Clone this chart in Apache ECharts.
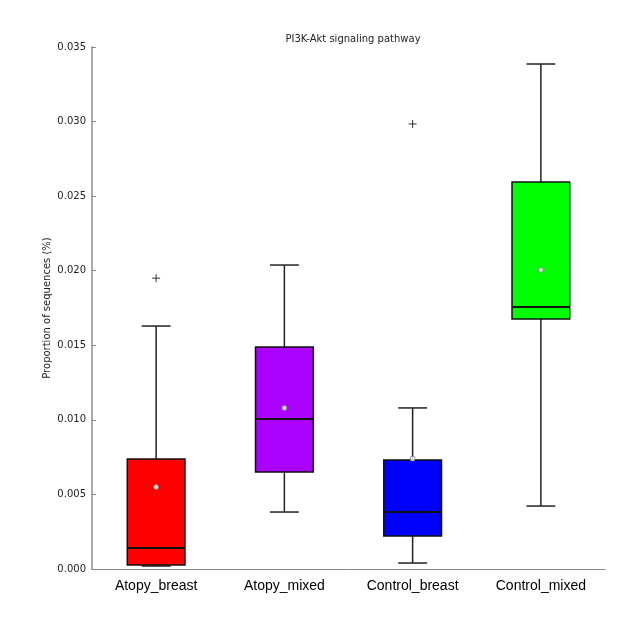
<!DOCTYPE html>
<html><head><meta charset="utf-8">
<script src="https://cdn.jsdelivr.net/npm/echarts@6/dist/echarts.min.js"></script>
<style>html,body{margin:0;padding:0;background:#fff}#c{width:638px;height:617px}</style>
</head><body><div id="c"></div>
<script>
var categories = ['Atopy_breast', 'Atopy_mixed', 'Control_breast', 'Control_mixed'];
// [whiskerLow, q1, median, q3, whiskerHigh]
var boxValues = [
  [0.0002, 0.00027, 0.00141, 0.00738, 0.01629],
  [0.00382, 0.0065, 0.01006, 0.01489, 0.02038],
  [0.0004, 0.00221, 0.00382, 0.00731, 0.0108],
  [0.00422, 0.01676, 0.01757, 0.02595, 0.03386]
];
var meanValues = [0.0055, 0.0108, 0.0074, 0.02005];
var outliers = [[0, 0.0195], [2, 0.02984]];
var boxColors = ['#ff0000', '#aa00ff', '#0000ff', '#00ff00'];
var yTicks = [0, 0.005, 0.01, 0.015, 0.02, 0.025, 0.03, 0.035];

var chart = echarts.init(document.getElementById('c'));
var boxData = boxValues.map(function (v, i) { return [i].concat(v); });

chart.setOption({
  animation: false,
  title: {
    text: 'PI3K-Akt signaling pathway', left: 348, top: 29, textAlign: 'center',
    textStyle: { fontSize: 10, fontWeight: 'normal', color: '#222', fontFamily: 'DejaVu Sans' }
  },
  grid: { left: 92, right: 33, top: 47, bottom: 48 },
  xAxis: {
    type: 'category', data: categories, boundaryGap: true,
    axisLine: { lineStyle: { color: '#888', width: 1 } },
    axisTick: { inside: true, alignWithLabel: true, length: 3, lineStyle: { color: '#888' } },
    axisLabel: { fontSize: 14, color: '#000', margin: 10, fontFamily: 'Liberation Sans' },
    splitLine: { show: false }
  },
  yAxis: {
    type: 'value', min: yTicks[0], max: yTicks[yTicks.length - 1], interval: 0.005,
    name: 'Proportion of sequences (%)', nameLocation: 'middle', nameGap: 40, nameMoveOverlap: false,
    nameTextStyle: { fontSize: 10, color: '#222', fontFamily: 'DejaVu Sans' },
    axisLine: { show: true, lineStyle: { color: '#aaa', width: 2 } },
    axisTick: { show: true, inside: true, length: 4, lineStyle: { color: '#888' } },
    axisLabel: { fontSize: 10, color: '#222', margin: 6, fontFamily: 'DejaVu Sans',
      formatter: function (v) { return v.toFixed(3); } },
    splitLine: { show: false }
  },
  series: [
    {
      type: 'custom',
      data: boxData,
      renderItem: function (params, api) {
        var i = api.value(0);
        var lo = api.coord([i, api.value(1)]);
        var q1 = api.coord([i, api.value(2)]);
        var med = api.coord([i, api.value(3)]);
        var q3 = api.coord([i, api.value(4)]);
        var hi = api.coord([i, api.value(5)]);
        var bw = api.size([1, 0])[0] * 0.45;
        var cw = bw * 0.5;
        var x = lo[0];
        var lineStyle = { stroke: '#222', lineWidth: 1.5 };
        return {
          type: 'group',
          children: [
            { type: 'line', shape: { x1: x, y1: q3[1], x2: x, y2: hi[1] }, style: lineStyle },
            { type: 'line', shape: { x1: x, y1: q1[1], x2: x, y2: lo[1] }, style: lineStyle },
            { type: 'line', shape: { x1: x - cw / 2, y1: hi[1], x2: x + cw / 2, y2: hi[1] }, style: lineStyle },
            { type: 'line', shape: { x1: x - cw / 2, y1: lo[1], x2: x + cw / 2, y2: lo[1] }, style: lineStyle },
            { type: 'rect', shape: { x: x - bw / 2, y: q3[1], width: bw, height: q1[1] - q3[1] },
              style: { fill: boxColors[i], stroke: '#111', lineWidth: 1.5 } },
            { type: 'line', shape: { x1: x - bw / 2, y1: med[1], x2: x + bw / 2, y2: med[1] },
              style: { stroke: '#111', lineWidth: 2 } }
          ]
        };
      },
      z: 2
    },
    {
      type: 'custom',
      data: outliers,
      renderItem: function (params, api) {
        var p = api.coord([api.value(0), api.value(1)]);
        var s = 4;
        var st = { stroke: '#333', lineWidth: 1 };
        return {
          type: 'group',
          children: [
            { type: 'line', shape: { x1: p[0] - s, y1: p[1], x2: p[0] + s, y2: p[1] }, style: st },
            { type: 'line', shape: { x1: p[0], y1: p[1] - s, x2: p[0], y2: p[1] + s }, style: st }
          ]
        };
      },
      z: 3
    },
    {
      type: 'scatter',
      data: meanValues.map(function (v, i) { return [i, v]; }),
      symbol: 'circle', symbolSize: 5,
      itemStyle: { color: '#ffffff', borderColor: '#777', borderWidth: 1 },
      z: 4
    }
  ]
});
</script>
</body></html>
